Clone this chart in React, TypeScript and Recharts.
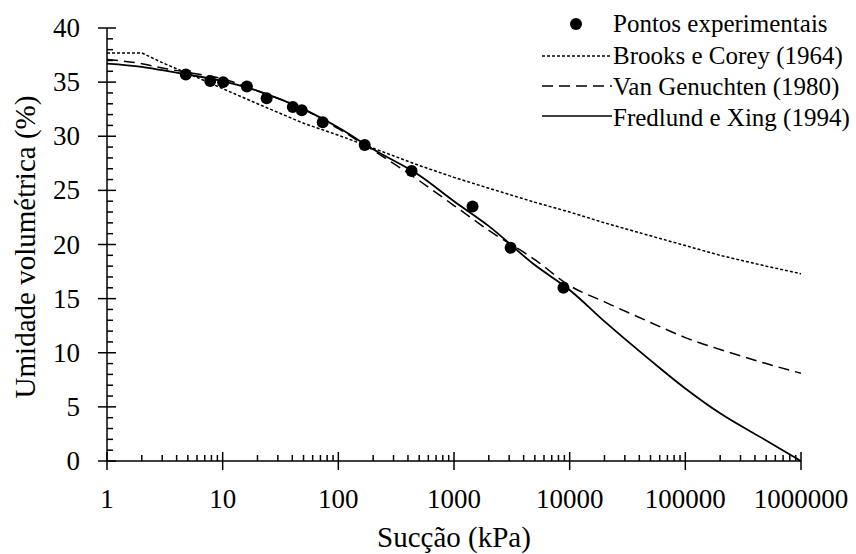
import React from "react";
import {
  ComposedChart,
  Line,
  Scatter,
  XAxis,
  YAxis,
  Label,
} from "recharts";

// suction grid (kPa) used for the fitted curves
const suctionGrid = [
  1, 2, 3, 5, 10, 20, 50, 100, 200, 500, 1000, 2000, 5000, 10000, 20000,
  50000, 100000, 200000, 500000, 1000000,
];
const brooksCorey = [
  37.7, 37.7, 36.8, 35.8, 34.4, 33.0, 31.2, 30.1, 28.9, 27.3, 26.2, 25.2,
  23.9, 23.0, 22.0, 20.8, 19.9, 19.0, 18.0, 17.3,
];
const vanGenuchten = [
  37.1, 36.7, 36.3, 35.9, 35.3, 34.2, 32.5, 30.7, 28.7, 25.9, 23.6, 21.3,
  18.6, 16.2, 14.7, 12.8, 11.4, 10.3, 9.0, 8.1,
];
const fredlundXing = [
  36.7, 36.4, 36.1, 35.7, 35.1, 34.2, 32.5, 30.8, 28.8, 26.4, 24.0, 21.7,
  18.1, 15.8, 12.9, 9.3, 6.7, 4.4, 1.9, 0,
];

// experimental points
const pointSuction = [
  4.8, 7.8, 10.1, 16.2, 24, 40.4, 48.3, 73.3, 169, 430, 1446, 3086, 8840,
];
const pointMoisture = [
  35.7, 35.1, 35.0, 34.6, 33.5, 32.7, 32.4, 31.3, 29.2, 26.8, 23.5, 19.7, 16.0,
];

const xMajorTicks = [1, 10, 100, 1000, 10000, 100000, 1000000];
const xMinorSteps = [2, 3, 4, 5, 6, 7, 8, 9];
const yTicks = Array.from({ length: 41 }, (_, i) => i);

const xAllTicks = [
  ...xMajorTicks,
  ...xMajorTicks.slice(0, -1).flatMap((d) => xMinorSteps.map((s) => s * d)),
].sort((a, b) => a - b);

const toRows = (ys: number[]) => suctionGrid.map((x, i) => ({ x, y: ys[i] }));
const bcData = toRows(brooksCorey);
const vgData = toRows(vanGenuchten);
const fxData = toRows(fredlundXing);
const pointData = pointSuction.map((x, i) => ({ x, y: pointMoisture[i] }));

const FONT =
  "'Liberation Serif', Tinos, 'Times New Roman', 'DejaVu Serif', serif";

function XTick(props: any) {
  const { x, y, payload } = props;
  const major = xMajorTicks.includes(payload.value);
  return (
    <g>
      <line
        x1={x}
        x2={x}
        y1={y - (major ? 9 : 6)}
        y2={y + (major ? 9 : 0)}
        stroke="#000"
        strokeWidth={1.5}
      />
      {major && (
        <text
          x={x}
          y={y + 47}
          textAnchor="middle"
          fontSize={27}
          fontFamily={FONT}
          fill="#000"
        >
          {payload.value}
        </text>
      )}
    </g>
  );
}

function YTick(props: any) {
  const { x, y, payload } = props;
  const major = payload.value % 5 === 0;
  return (
    <g>
      <line
        x1={x - (major ? 9 : 0)}
        x2={x + (major ? 9 : 6)}
        y1={y}
        y2={y}
        stroke="#000"
        strokeWidth={1.5}
      />
      {major && (
        <text
          x={x - 27}
          y={y + 9}
          textAnchor="end"
          fontSize={27}
          fontFamily={FONT}
          fill="#000"
        >
          {payload.value}
        </text>
      )}
    </g>
  );
}

function ChartLegend() {
  const rows = [
    { label: "Brooks e Corey (1964)", dash: "3 2" },
    { label: "Van Genuchten (1980)", dash: "11 6" },
    { label: "Fredlund e Xing (1994)", dash: undefined },
  ];
  return (
    <svg
      width={320}
      height={140}
      style={{ position: "absolute", left: 530, top: 0 }}
    >
      <circle cx={46} cy={24} r={6} fill="#000" />
      <text x={83} y={32} fontSize={25} fontFamily={FONT} fill="#000">
        Pontos experimentais
      </text>
      {rows.map((r, i) => (
        <g key={r.label}>
          <line
            x1={12}
            x2={82}
            y1={56 + i * 30}
            y2={56 + i * 30}
            stroke="#000"
            strokeWidth={1.5}
            strokeDasharray={r.dash}
          />
          <text
            x={83}
            y={64 + i * 31}
            fontSize={25}
            fontFamily={FONT}
            fill="#000"
          >
            {r.label}
          </text>
        </g>
      ))}
    </svg>
  );
}

export default function App() {
  return (
    <div
      style={{
        position: "absolute",
        left: 0,
        top: 0,
        width: 856,
        height: 554,
        background: "#fff",
      }}
    >
      <ComposedChart
        width={856}
        height={554}
        margin={{ top: 28, right: 55, bottom: 0, left: 0 }}
      >
        <XAxis
          dataKey="x"
          type="number"
          scale="log"
          domain={[1, 1000000]}
          ticks={xAllTicks}
          interval={0}
          allowDataOverflow
          height={93}
          tickSize={0}
          tickMargin={0}
          tickLine={false}
          tick={<XTick />}
          axisLine={{ stroke: "#000", strokeWidth: 1.5 }}
        >
          <Label
            value="Sucção (kPa)"
            position="insideBottom"
            offset={7}
            fontSize={29}
            fontFamily={FONT}
            fill="#000"
          />
        </XAxis>
        <YAxis
          type="number"
          domain={[0, 40]}
          ticks={yTicks}
          interval={0}
          width={107}
          tickSize={0}
          tickMargin={0}
          tickLine={false}
          tick={<YTick />}
          axisLine={{ stroke: "#000", strokeWidth: 1.5 }}
        >
          <Label
            content={() => (
              <text
                transform="translate(35,247) rotate(-90)"
                textAnchor="middle"
                fontSize={29}
                fontFamily={FONT}
                fill="#000"
              >
                Umidade volumétrica (%)
              </text>
            )}
          />
        </YAxis>
        <Line
          data={bcData}
          dataKey="y"
          type="linear"
          stroke="#000"
          strokeWidth={1.5}
          strokeDasharray="3 2"
          dot={false}
          isAnimationActive={false}
        />
        <Line
          data={vgData}
          dataKey="y"
          type="monotone"
          stroke="#000"
          strokeWidth={1.5}
          strokeDasharray="11 6"
          dot={false}
          isAnimationActive={false}
        />
        <Line
          data={fxData}
          dataKey="y"
          type="monotone"
          stroke="#000"
          strokeWidth={1.8}
          dot={false}
          isAnimationActive={false}
        />
        <Scatter
          data={pointData}
          dataKey="y"
          fill="#000"
          isAnimationActive={false}
          shape={(p: any) => <circle cx={p.cx} cy={p.cy} r={6} fill="#000" />}
        />
      </ComposedChart>
      <ChartLegend />
    </div>
  );
}
